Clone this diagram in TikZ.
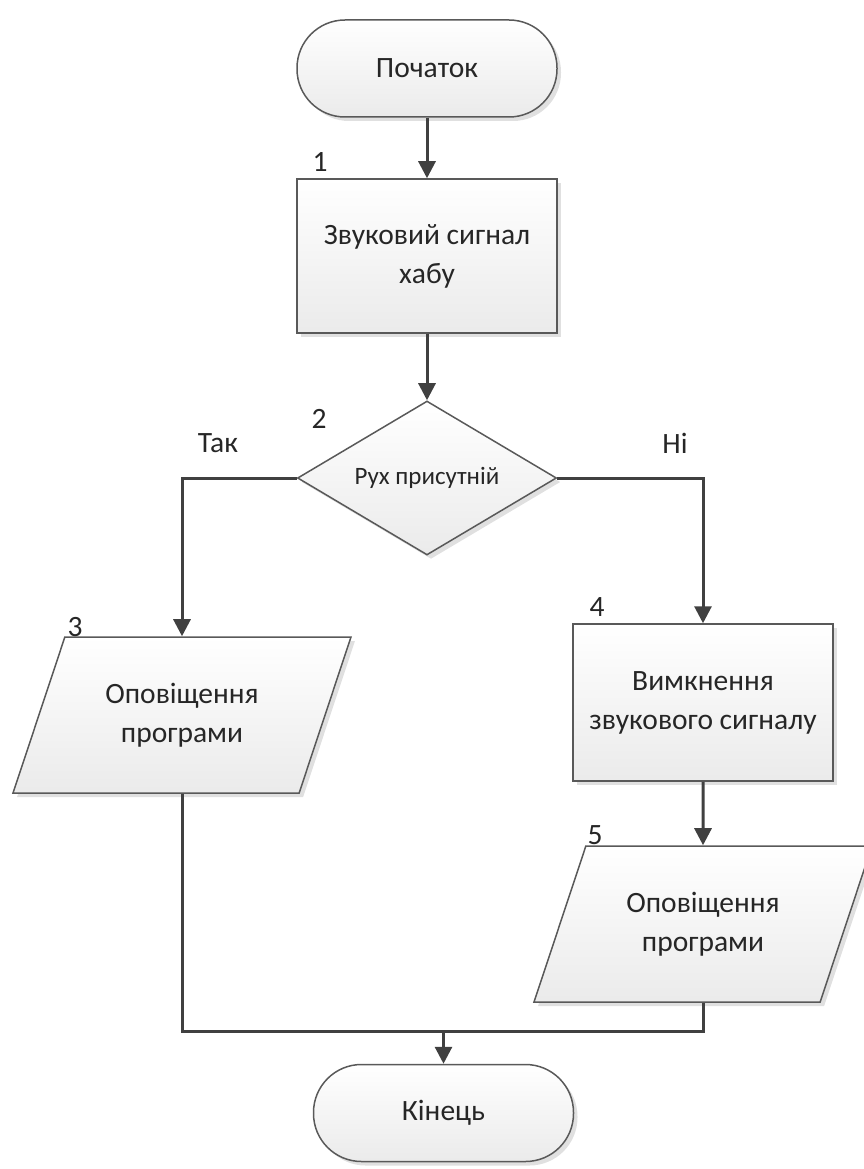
\documentclass[tikz,border=0pt]{standalone}
\usepackage{fontspec}
\setmainfont{Carlito}
\usetikzlibrary{shapes.geometric, arrows.meta, shadows}

\begin{document}
\begin{tikzpicture}[x=1pt, y=-1pt,
    every node/.style={font=\fontsize{29.5}{39}\selectfont, text=black!85},
    block/.style={draw=black!65, line width=1.5pt, top color=white, bottom color=black!8,
        drop shadow={shadow xshift=4pt, shadow yshift=-4pt, fill=black, opacity=0.12}},
    terminal/.style={block, rectangle, rounded corners=48pt, minimum width=260pt, minimum height=97pt},
    process/.style={block, rectangle, minimum width=260pt, minimum height=154pt, align=center},
    decision/.style={block, diamond, aspect=1.68, minimum width=259pt, minimum height=154pt, inner sep=0pt,
        font=\fontsize{25}{30}\selectfont},
    io/.style={block, trapezium, trapezium left angle=63.4, trapezium right angle=116.6,
        trapezium stretches=true, minimum width=339pt, minimum height=156pt, align=center},
    line/.style={draw=black!75, line width=3pt},
    arrow/.style={line, -{Triangle[length=17pt, width=17pt]}}
]
    \useasboundingbox (0,0) rectangle (864,1169);
    % Blocks
    \node[terminal] (Start) at (427,68.5) {Початок};
    \node[process] (Signal) at (427,256) {Звуковий сигнал\\хабу};
    \node[decision] (Check) at (427,478) {Рух присутній};
    \node[io] (Notify-1) at (182,715) {Оповіщення\\програми};
    \node[process, minimum height=157pt] (Mute) at (703,702.5) {Вимкнення\\звукового сигналу};
    \node[io] (Notify-2) at (703,924) {Оповіщення\\програми};
    \node[terminal] (End) at (443.5,1113) {Кінець};
    \coordinate (Merge) at (443.5,1031);
    % Numbers
    \foreach \n/\x/\y in {1/320/162, 2/319/419, 3/75/627, 4/597/607, 5/595/835} {
        \node (Num-\n) at (\x,\y) {\n};
    }
    % Branch labels
    \node (Yes) at (218,443) {Так};
    \node (No) at (675,443) {Ні};
    % Arrows
    \foreach \a/\b in {Start/Signal, Signal/Check, Mute/Notify-2} {
        \draw[arrow] (\a) -- (\b);
    }
    \draw[arrow] (Check.west) -| (Notify-1);
    \draw[arrow] (Check.east) -| (Mute);
    \draw[line] (Notify-1) |- (Merge);
    \draw[line] (Notify-2) |- (Merge);
    \draw[arrow] (Merge) -- (End);
\end{tikzpicture}
\end{document}
